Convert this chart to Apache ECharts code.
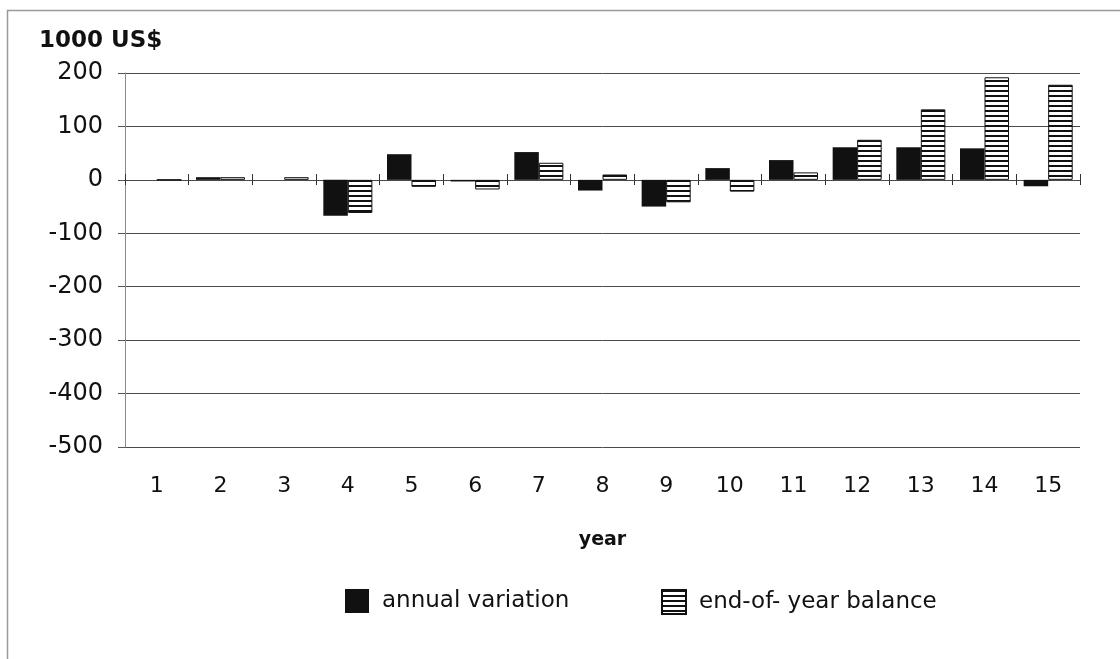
<!DOCTYPE html>
<html>
<head>
<meta charset="utf-8">
<script src="https://cdn.jsdelivr.net/npm/echarts@6/dist/echarts.min.js"></script>
<style>
html,body{margin:0;padding:0;background:#fff;}
#chart{width:1120px;height:659px;}
</style>
</head>
<body>
<div id="chart"></div>
<script>
// ---- data ----
const years = ['1','2','3','4','5','6','7','8','9','10','11','12','13','14','15'];
const annualVariation = [0, 5, 0, -67, 48, -3, 52, -20, -50, 22, 37, 61, 61, 59, -12];
const endOfYearBalance = [0, 5, 5, -62, -13, -18, 32, 10, -42, -22, 14, 75, 132, 192, 178];
const yMin = -500, yMax = 200, yStep = 100;
const unitLabel = '1000 US$';
const xName = 'year';
const seriesNames = ['annual variation', 'end-of- year balance'];

// ---- stripe pattern ----
const pc = document.createElement('canvas');
pc.width = 4; pc.height = 5;
const pctx = pc.getContext('2d');
pctx.fillStyle = '#ffffff'; pctx.fillRect(0,0,4,5);
pctx.fillStyle = '#111111'; pctx.fillRect(0,0,4,2);
const stripe = { image: pc, repeat: 'repeat' };

const FONT = '"DejaVu Sans", Verdana, sans-serif';
const chart = echarts.init(document.getElementById('chart'), null, {renderer:'canvas'});
chart.setOption({
  animation: false,
  backgroundColor: '#fff',
  textStyle: { fontFamily: FONT, color: '#111' },
  graphic: [{
    type: 'rect', shape: { x: 7.5, y: 10.5, width: 1200, height: 1000 },
    style: { fill: 'none', stroke: '#9a9a9a', lineWidth: 1.5 }, silent: true, z: 0
  }],
  title: {
    text: unitLabel, left: 34, top: 25,
    textStyle: { fontFamily: FONT, fontSize: 23, fontWeight: 'bold', color: '#111' }
  },
  legend: [
    { data: [seriesNames[0]], left: 340, top: 584, itemWidth: 24, itemHeight: 24,
      icon: 'rect', textStyle: { fontFamily: FONT, fontSize: 23, color: '#111', padding: [0,0,0,8] } },
    { data: [seriesNames[1]], left: 656, top: 584, itemWidth: 24, itemHeight: 24,
      icon: 'rect', textStyle: { fontFamily: FONT, fontSize: 23, color: '#111', padding: [0,0,0,8] } }
  ],
  grid: { left: 125, right: 40, top: 73, bottom: 212, containLabel: false },
  xAxis: [
    { type: 'category', data: years, position: 'bottom',
      axisLine: { show: false, onZero: false }, axisTick: { show: false },
      axisLabel: { fontFamily: FONT, fontSize: 22, color: '#111', margin: 28 },
      name: xName, nameLocation: 'middle', nameGap: 84,
      nameTextStyle: { fontFamily: FONT, fontSize: 19, fontWeight: 'bold', color: '#111' } },
    { type: 'category', data: years, position: 'top', offset: -112,
      axisLine: { show: false, onZero: false },
      axisTick: { show: true, inside: false, length: 11, alignWithLabel: false, lineStyle: { color: '#333', width: 1 } },
      axisLabel: { show: false }, splitLine: { show: false } }
  ],
  yAxis: {
    type: 'value', min: yMin, max: yMax, interval: yStep,
    axisLine: { show: true, lineStyle: { color: '#8a8a8a', width: 1 } },
    axisTick: { show: true, length: 7, lineStyle: { color: '#555' } },
    axisLabel: { fontFamily: FONT, fontSize: 24, color: '#111', margin: 22 },
    splitLine: { show: true, lineStyle: { color: '#4a4a4a', width: 1 } }
  },
  series: [
    { name: seriesNames[0], type: 'bar', xAxisIndex: 0, data: annualVariation,
      barGap: '0%', barCategoryGap: '23%',
      itemStyle: { color: '#111111' } },
    { name: seriesNames[1], type: 'bar', xAxisIndex: 0, data: endOfYearBalance,
      barGap: '0%', barCategoryGap: '23%',
      itemStyle: { color: stripe, borderColor: '#111111', borderWidth: 1 } }
  ]
});
</script>
</body>
</html>
